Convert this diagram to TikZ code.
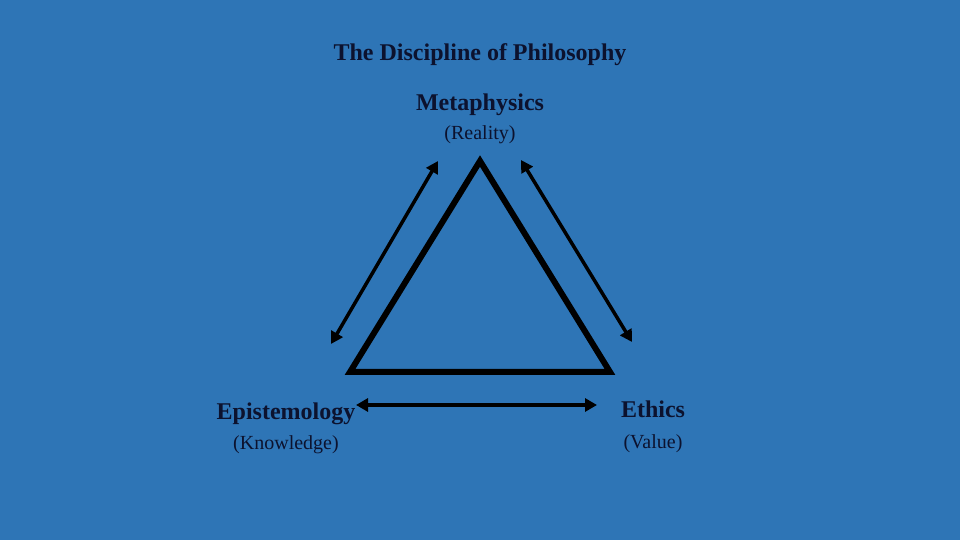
\documentclass[tikz,border=0pt]{standalone}
\usepackage{fontspec}
\setmainfont{Liberation Serif}
\usepackage{tikz}
\usetikzlibrary{positioning, arrows.meta}
\definecolor{slideblue}{RGB}{46,117,182}
\definecolor{inkblue}{RGB}{12,18,46}
\tikzset{H/.style={font=\fontsize{24}{28}\selectfont\bfseries, text=inkblue, inner sep=0pt, anchor=base}}
\tikzset{S/.style={font=\fontsize{20}{24}\selectfont, text=inkblue, inner sep=0pt, anchor=base}}
\tikzset{E/.style={draw, line width=3.5pt, {Triangle[length=12pt,width=13pt]}-{Triangle[length=12pt,width=13pt]}}}
\tikzset{T/.style={draw, line width=6pt, line join=miter}}

\begin{document}
\begin{tikzpicture}[x=1pt, y=1pt]
        \fill[slideblue] (0,0) rectangle (960,540);
        %% Title
        \node[H] (title) at (480,479) {The Discipline of Philosophy};
        %% Corners
        \node[H] (meta) at (480,429) {Metaphysics};
        \node[S] (reality) at ([yshift=-29]meta.base) {(Reality)};
        \node[H] (epi) at (286,120) {Epistemology};
        \node[S] (knowledge) at ([yshift=-30]epi.base) {(Knowledge)};
        \node[H] (eth) at (653,122) {Ethics};
        \node[S] (value) at ([yshift=-31]eth.base) {(Value)};
        %% Triangle
        \coordinate (top) at (480,379);
        \coordinate (bl) at (350,168);
        \coordinate (br) at (610,168);
        \draw[T] (top) -- (bl) -- (br) -- cycle;
        %% Arrow ends
        \coordinate (l1) at (438,379);
        \coordinate (l2) at (331,196);
        \coordinate (r1) at (521,380);
        \coordinate (r2) at (632,198);
        \coordinate (b1) at (356,135);
        \coordinate (b2) at (597,135);
        %% Edges
        \draw[E] (l1) -- (l2);
        \draw[E] (r1) -- (r2);
        \draw[E] (b1) -- (b2);
\end{tikzpicture}
\end{document}
